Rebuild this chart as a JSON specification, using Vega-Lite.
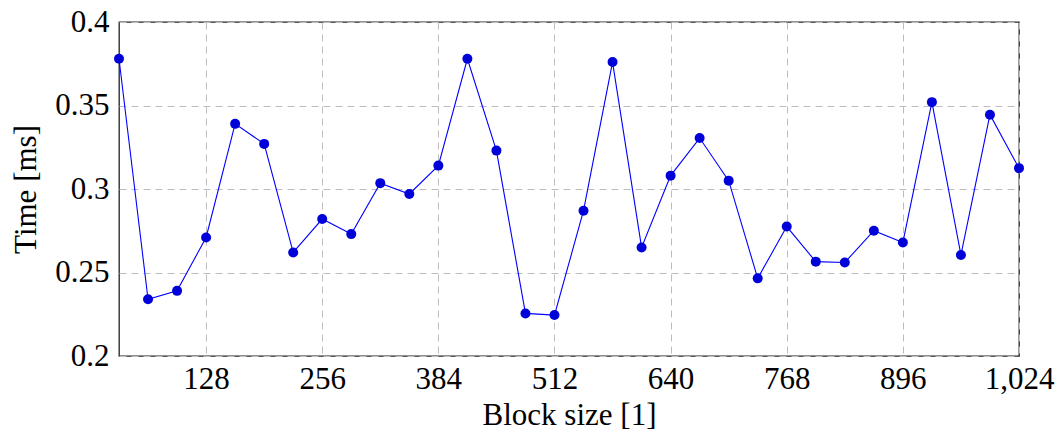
{
  "$schema": "https://vega.github.io/schema/vega-lite/v6.json",
  "width": 900,
  "height": 334,
  "autosize": "none",
  "padding": {"left": 119, "top": 22, "right": 41, "bottom": 83},
  "background": "white",
  "config": {
    "font": "Liberation Serif",
    "view": {"stroke": "#222222", "strokeWidth": 1.3},
    "axis": {
      "labelFont": "Liberation Serif",
      "titleFont": "Liberation Serif",
      "labelFontSize": 31,
      "titleFontSize": 31,
      "titleFontWeight": "normal",
      "labelColor": "black",
      "titleColor": "black",
      "labelFlush": false,
      "labelOverlap": false,
      "domain": false,
      "ticks": false,
      "gridColor": "#bdbdbd",
      "gridDash": [7, 5],
      "gridWidth": 1
    }
  },
  "data": {
    "values": [
      {"block": 32, "time": 0.378},
      {"block": 64, "time": 0.234},
      {"block": 96, "time": 0.239},
      {"block": 128, "time": 0.271},
      {"block": 160, "time": 0.339},
      {"block": 192, "time": 0.327},
      {"block": 224, "time": 0.262},
      {"block": 256, "time": 0.282},
      {"block": 288, "time": 0.273},
      {"block": 320, "time": 0.3035},
      {"block": 352, "time": 0.297},
      {"block": 384, "time": 0.314},
      {"block": 416, "time": 0.378},
      {"block": 448, "time": 0.323},
      {"block": 480, "time": 0.2255},
      {"block": 512, "time": 0.2245},
      {"block": 544, "time": 0.287},
      {"block": 576, "time": 0.376},
      {"block": 608, "time": 0.265},
      {"block": 640, "time": 0.308},
      {"block": 672, "time": 0.3305},
      {"block": 704, "time": 0.305},
      {"block": 736, "time": 0.2465},
      {"block": 768, "time": 0.2775},
      {"block": 800, "time": 0.2565},
      {"block": 832, "time": 0.256},
      {"block": 864, "time": 0.275},
      {"block": 896, "time": 0.268},
      {"block": 928, "time": 0.352},
      {"block": 960, "time": 0.2605},
      {"block": 992, "time": 0.3445},
      {"block": 1024, "time": 0.3125}
    ]
  },
  "encoding": {
    "x": {
      "field": "block",
      "type": "quantitative",
      "scale": {"domain": [32, 1024], "nice": false, "zero": false},
      "axis": {
        "values": [128, 256, 384, 512, 640, 768, 896, 1024],
        "format": ",d",
        "title": "Block size [1]",
        "labelPadding": 8,
        "titlePadding": 6
      }
    },
    "y": {
      "field": "time",
      "type": "quantitative",
      "scale": {"domain": [0.2, 0.4], "nice": false, "zero": false},
      "axis": {
        "values": [0.2, 0.25, 0.3, 0.35, 0.4],
        "format": ".2~f",
        "title": "Time [ms]",
        "labelPadding": 10,
        "titlePadding": 12
      }
    }
  },
  "layer": [
    {"mark": {"type": "line", "color": "#0000ff", "strokeWidth": 1.1}},
    {"mark": {"type": "point", "filled": true, "color": "#0000d9", "opacity": 1, "size": 100}}
  ]
}
